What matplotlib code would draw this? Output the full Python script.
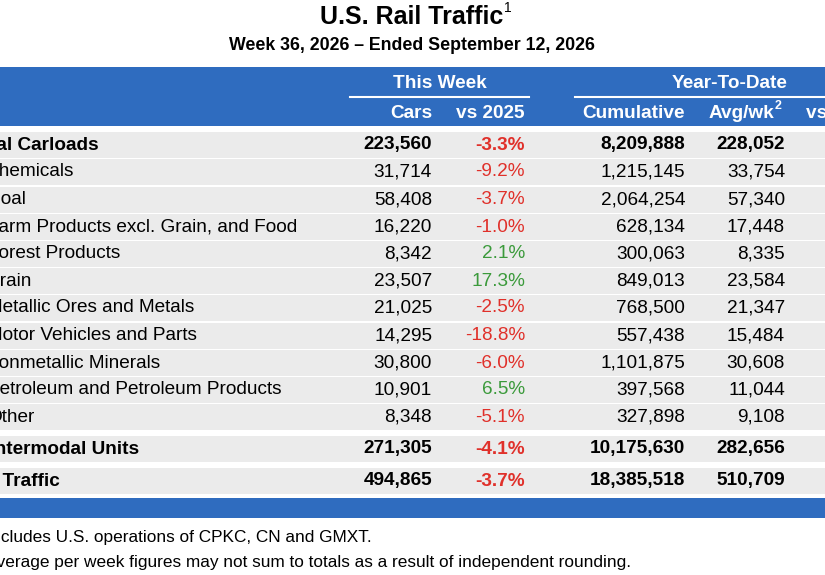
import matplotlib.pyplot as plt

plt.rcParams['font.family'] = ['Liberation Sans', 'DejaVu Sans']

# ----------------------------
# TABLE DATA
# ----------------------------
names = ["Total Carloads", "Chemicals", "Coal", "Farm Products excl. Grain, and Food",
         "Forest Products", "Grain", "Metallic Ores and Metals", "Motor Vehicles and Parts",
         "Nonmetallic Minerals", "Petroleum and Petroleum Products", "Other",
         "Total Intermodal Units", "Total Traffic"]
cars = ["223,560", "31,714", "58,408", "16,220", "8,342", "23,507", "21,025", "14,295",
        "30,800", "10,901", "8,348", "271,305", "494,865"]
vs_2025 = [-3.3, -9.2, -3.7, -1.0, 2.1, 17.3, -2.5, -18.8, -6.0, 6.5, -5.1, -4.1, -3.7]
cumulative = ["8,209,888", "1,215,145", "2,064,254", "628,134", "300,063", "849,013",
              "768,500", "557,438", "1,101,875", "397,568", "327,898", "10,175,630", "18,385,518"]
avg_wk = ["228,052", "33,754", "57,340", "17,448", "8,335", "23,584", "21,347", "15,484",
          "30,608", "11,044", "9,108", "282,656", "510,709"]
bold_rows = [0, 11, 12]
footnotes = ["¹ Includes U.S. operations of CPKC, CN and GMXT.",
             "² Average per week figures may not sum to totals as a result of independent rounding."]

BLUE = "#2f6cbf"
GRAY = "#ebebeb"
RED = "#e0302a"
GREEN = "#3b9a3b"
FS = 13.7

fig = plt.figure(figsize=(8.25, 5.75), dpi=100)
ax = fig.add_axes([0, 0, 1, 1])
ax.set_xlim(0, 825)
ax.set_ylim(575, 0)
ax.axis("off")

# titles
ax.text(412, 17, "U.S. Rail Traffic", ha="center", va="center", fontsize=18, fontweight="bold")
ax.text(504, 8, "1", ha="left", va="center", fontsize=10)
ax.text(412, 45, "Week 36, 2026 – Ended September 12, 2026", ha="center", va="center",
        fontsize=12.8, fontweight="bold")

# header band
ax.add_patch(plt.Rectangle((0, 67), 825, 59, color=BLUE, lw=0))
ax.text(440, 83, "This Week", ha="center", va="center", color="white", fontsize=FS, fontweight="bold")
ax.text(730, 83, "Year-To-Date", ha="center", va="center", color="white", fontsize=FS, fontweight="bold")
ax.plot([350, 529], [97, 97], color="white", lw=1.5)
ax.plot([575, 825], [97, 97], color="white", lw=1.5)
hdr_y = 114
for x, t in [(432, "Cars"), (525, "vs 2025"), (685, "Cumulative")]:
    ax.text(x, hdr_y, t, ha="right", va="center", color="white", fontsize=FS, fontweight="bold")
ax.text(774, hdr_y, "Avg/wk", ha="right", va="center", color="white", fontsize=FS, fontweight="bold")
ax.text(775, hdr_y - 8, "2", ha="left", va="center", color="white", fontsize=9, fontweight="bold")
ax.text(806, hdr_y, "vs 2025", ha="left", va="center", color="white", fontsize=FS, fontweight="bold")

# rows
row_y = [145, 172, 200, 227, 254, 281, 308, 336, 363, 390, 417, 449, 481]
name_x = [-32, -15, -13, -13, -13, -15, -13, -13, -15, -13, -13, -60, -47]
for i, y in enumerate(row_y):
    ax.add_patch(plt.Rectangle((0, y - 13), 825, 26, color=GRAY, lw=0))
    w = "bold" if i in bold_rows else "normal"
    ax.text(name_x[i], y, names[i], ha="left", va="center", fontsize=FS, fontweight=w)
    ax.text(432, y, cars[i], ha="right", va="center", fontsize=FS, fontweight=w)
    ax.text(525, y, f"{vs_2025[i]:.1f}%", ha="right", va="center", fontsize=FS, fontweight=w,
            color=RED if vs_2025[i] < 0 else GREEN)
    ax.text(685, y, cumulative[i], ha="right", va="center", fontsize=FS, fontweight=w)
    ax.text(785, y, avg_wk[i], ha="right", va="center", fontsize=FS, fontweight=w)

# bottom band
ax.add_patch(plt.Rectangle((0, 498), 825, 20, color=BLUE, lw=0))

ax.text(-24, 537, footnotes[0], ha="left", va="center", fontsize=12.4)
ax.text(-24, 563, footnotes[1], ha="left", va="center", fontsize=12.4)

fig.savefig("out.png", dpi=100)
